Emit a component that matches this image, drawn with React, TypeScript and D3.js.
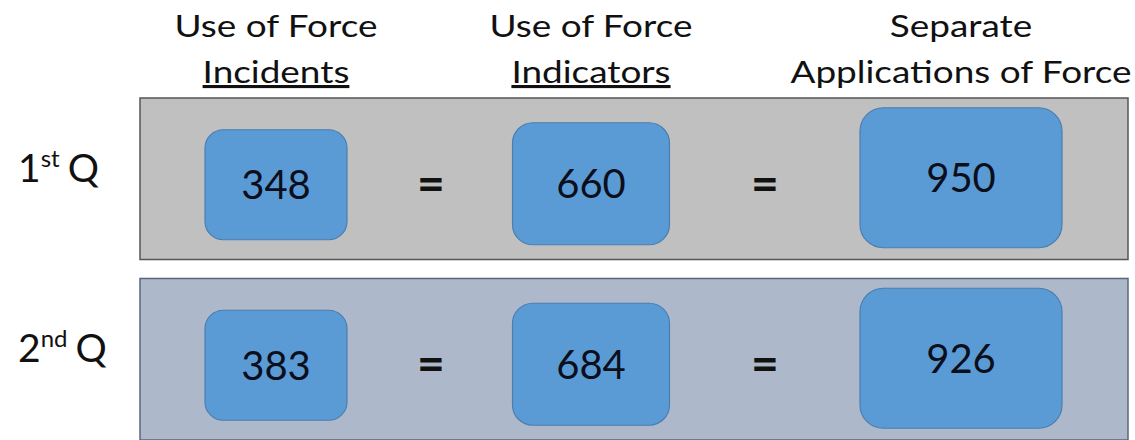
import React, { useEffect, useRef } from 'react';
import * as d3 from 'd3';

// columns and rows of the figure
const measures = ['Incidents', 'Indicators', 'Applications'];
const headerTop = ['Use of Force', 'Use of Force', 'Separate'];
const headerBottom = ['Incidents', 'Indicators', 'Applications of Force'];
const underlined = [true, true, false];

const quarters = ['1st', '2nd'];
const quarterNum = ['1', '2'];
const quarterSup = ['st', 'nd'];

const q1Values = [348, 660, 950];
const q2Values = [383, 684, 926];

const W = 1135;
const H = 440;

const App = () => {
  const ref = useRef<SVGSVGElement>(null);

  useEffect(() => {
    const svg = d3.select(ref.current);
    svg.selectAll('*').remove();

    const font = 'Lato, "Open Sans", sans-serif';

    const x = d3.scaleOrdinal<string, number>().domain(measures).range([276, 591, 961]);
    const y = d3.scaleBand().domain(quarters).range([98, 440]).paddingInner(0.105);

    // box size per column, and a small vertical offset
    const boxW = d3.scaleOrdinal<string, number>().domain(measures).range([142, 157, 202]);
    const boxH = d3.scaleOrdinal<string, number>().domain(measures).range([110, 122, 140]);
    const boxDy = d3.scaleOrdinal<string, number>().domain(measures).range([6, 5, -1]);

    const panelColor = d3.scaleOrdinal<string, string>().domain(quarters).range(['#c0c0c0', '#adb9ca']);
    const panelStroke = d3.scaleOrdinal<string, string>().domain(quarters).range(['#555', '#5b6779']);

    const rows = quarters.map((q, i) => ({
      q, num: quarterNum[i], sup: quarterSup[i],
      values: (i === 0 ? q1Values : q2Values).map((v, j) => ({ m: measures[j], v })),
    }));

    // headers (the source font is wider than Lato, so stretch a bit)
    const stretch = 1.19;
    const head = svg.append('g').selectAll('g').data(measures).enter().append('g');
    head.append('text')
      .attr('x', d => x(d))
      .attr('y', 37)
      .attr('text-anchor', 'middle')
      .attr('font-family', font)
      .attr('font-size', 31)
      .attr('fill', '#111')
      .text((d, i) => headerTop[i]);
    head.append('text')
      .attr('x', d => x(d))
      .attr('y', 83)
      .attr('text-anchor', 'middle')
      .attr('font-family', font)
      .attr('font-size', 31)
      .attr('fill', '#111')
      .attr('text-decoration', (d, i) => underlined[i] ? 'underline' : null)
      .text((d, i) => headerBottom[i]);
    head.selectAll<SVGTextElement, unknown>('text').each(function () {
      const len = this.getComputedTextLength();
      d3.select(this).attr('textLength', len * stretch).attr('lengthAdjust', 'spacingAndGlyphs');
    });

    const row = svg.append('g').selectAll('g').data(rows).enter().append('g')
      .attr('transform', d => `translate(0,${y(d.q)})`);

    row.append('rect')
      .attr('x', 140)
      .attr('y', 0)
      .attr('width', 988)
      .attr('height', y.bandwidth())
      .attr('fill', d => panelColor(d.q))
      .attr('stroke', d => panelStroke(d.q))
      .attr('stroke-width', 1.5);

    const mid = y.bandwidth() / 2;

    // row label, e.g. 1st Q
    const lab = row.append('text')
      .attr('x', 18)
      .attr('y', mid + 3)
      .attr('font-family', font)
      .attr('font-size', 39)
      .attr('fill', '#111');
    lab.append('tspan').text(d => d.num);
    lab.append('tspan').attr('font-size', 24).attr('dy', -15).text(d => d.sup);
    lab.append('tspan').attr('dy', 15).attr('dx', 8).text('Q');

    const box = row.selectAll('g.box').data(d => d.values).enter().append('g')
      .attr('class', 'box')
      .attr('transform', d => `translate(${x(d.m)},${mid + boxDy(d.m)})`);

    box.append('rect')
      .attr('x', d => -boxW(d.m) / 2)
      .attr('y', d => -boxH(d.m) / 2)
      .attr('width', d => boxW(d.m))
      .attr('height', d => boxH(d.m))
      .attr('rx', d => Math.min(boxW(d.m), boxH(d.m)) / 6)
      .attr('fill', '#5b9bd5')
      .attr('stroke', '#4a7eb0')
      .attr('stroke-width', 1.2);

    box.append('text')
      .attr('text-anchor', 'middle')
      .attr('dy', 14.5)
      .attr('font-family', font)
      .attr('font-size', 40)
      .attr('fill', '#0b0f1c')
      .text(d => d.v);

    // equals signs between the columns
    const eqX = d3.pairs(measures).map(([a]) => a === measures[0] ? 431 : 765);
    row.selectAll('text.eq').data(eqX).enter().append('text')
      .attr('class', 'eq')
      .attr('x', d => d)
      .attr('y', mid + 22)
      .attr('text-anchor', 'middle')
      .attr('font-family', font)
      .attr('font-weight', 'bold')
      .attr('font-size', 48)
      .attr('fill', '#111')
      .text('=');
  }, []);

  return (
    <svg ref={ref} width={W} height={H}
      style={{ position: 'absolute', left: 0, top: 0, background: '#fff' }} />
  );
};

export default App;
